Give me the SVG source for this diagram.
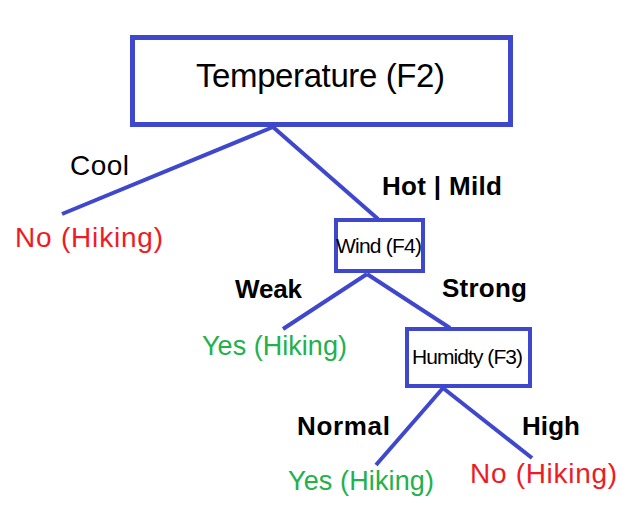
<svg xmlns="http://www.w3.org/2000/svg" width="623" height="510" viewBox="0 0 623 510">
<style>
.box{fill:#fff;stroke:#3F48CC}
.edge{stroke:#3F48CC;stroke-width:4;fill:none}
text{font-family:"Liberation Sans",Arial,sans-serif;fill:#000}
.lbl{font-weight:bold;font-size:26px}
.no{fill:#ED1C24;font-size:28px}
.yes{fill:#22B14C;font-size:27px}
</style>
<rect width="623" height="510" fill="#fff"/>
<g id="connectors">
<line class="edge" x1="273" y1="127" x2="62" y2="214"/>
<line class="edge" x1="273" y1="127" x2="378" y2="219"/>
<line class="edge" x1="367" y1="274" x2="283" y2="329"/>
<line class="edge" x1="367" y1="274" x2="450" y2="328"/>
<line class="edge" x1="443" y1="388" x2="376" y2="465"/>
<line class="edge" x1="443" y1="388" x2="532" y2="458"/>
<text class="lbl" x="70" y="175" style="font-weight:normal;font-size:28px" textLength="59">Cool</text>
<text class="lbl" x="382" y="195" textLength="120">Hot | Mild</text>
<text class="lbl" x="235" y="298" textLength="67">Weak</text>
<text class="lbl" x="442" y="297" textLength="85">Strong</text>
<text class="lbl" x="297" y="435" textLength="93">Normal</text>
<text class="lbl" x="522" y="435" textLength="58">High</text>
</g>
<g id="temperature">
<rect class="box" x="132.5" y="37.5" width="378" height="87" stroke-width="5"/>
<text x="196" y="87" font-size="33" textLength="249">Temperature (F2)</text>
</g>
<g id="wind">
<rect class="box" x="336" y="220" width="87" height="51" stroke-width="4"/>
<text x="336" y="253" font-size="21" textLength="86">Wind (F4)</text>
</g>
<g id="humidity">
<rect class="box" x="407" y="329" width="123" height="57" stroke-width="4"/>
<text x="412" y="364" font-size="21" textLength="111">Humidty (F3)</text>
</g>
<g id="no-cool">
<text class="no" x="15" y="247" textLength="148">No (Hiking)</text>
</g>
<g id="yes-weak">
<text class="yes" x="202" y="355" textLength="145">Yes (Hiking)</text>
</g>
<g id="yes-normal">
<text class="yes" x="288" y="490" textLength="146">Yes (Hiking)</text>
</g>
<g id="no-high">
<text class="no" x="470" y="483" textLength="147">No (Hiking)</text>
</g>
</svg>
